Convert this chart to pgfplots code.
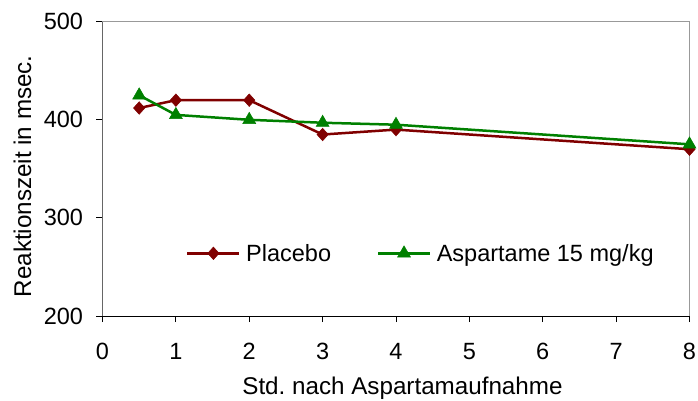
\documentclass[border=0pt]{standalone}
\usepackage{fontspec}
\setmainfont{Liberation Sans}
\usepackage{pgfplots}
\pgfplotsset{compat=1.18}
\definecolor{pred}{HTML}{800000}
\definecolor{pgreen}{HTML}{008000}
\begin{document}
\frenchspacing
\begin{tikzpicture}[font=\fontsize{23.5bp}{28bp}\selectfont]
\useasboundingbox (-102.5bp,-85bp) rectangle (595.5bp,316bp);
\begin{axis}[
  at={(0,0)}, anchor=south west,
  width=587bp, height=294.3bp, scale only axis,
  xmin=0, xmax=8, ymin=200, ymax=500,
  xtick={0,...,8}, ytick={200,300,400,500},
  axis line style={draw=none},
  tick align=outside, major tick length=6bp,
  xtick pos=bottom, ytick pos=left,
  tick style={black, line width=1bp},
  xticklabel style={yshift=-18bp},
  yticklabel style={xshift=-10bp},
  /pgf/number format/assume math mode=true,
  xlabel={Std. nach Aspartamaufnahme},
  ylabel={Reaktionszeit in msec.},
  every axis x label/.style={at={(axis description cs:0.511,-0.2684)}, anchor=base, font=\fontsize{24.2bp}{28bp}\selectfont},
  every axis y label/.style={at={(axis description cs:-0.1218,0.4747)}, anchor=base, rotate=90, font=\fontsize{24.2bp}{28bp}\selectfont},
  legend style={draw=none, fill=none, at={(axis description cs:0.1422,0.213)}, anchor=west,
    inner sep=0pt, nodes={inner sep=0pt},
    /tikz/every odd column/.append style={column sep=5.5bp},
    /tikz/every even column/.append style={column sep=45.7bp}},
  legend columns=2,
  legend image code/.code={\draw[mark repeat=2,mark phase=2,#1] plot coordinates {(0bp,0bp) (26bp,0bp) (52bp,0bp)};},
  clip=false,
]
\draw[color=black!40, line width=1bp] (rel axis cs:0,1) -- (rel axis cs:1,1) -- (rel axis cs:1,0);
\draw[color=black!60, line width=1.6bp] (rel axis cs:0,0) -- (rel axis cs:0,1);
\draw[black, line width=1bp] (rel axis cs:0,0) -- (rel axis cs:1,0);
\addplot[color=pred, line width=2.5bp, mark=diamond*, mark size=6.3bp, mark options={solid, xscale=1.2, line width=0.5bp}]
  coordinates {(0.5,412) (1,420) (2,420) (3,385) (4,390) (8,370)};
\addlegendentry{Placebo}
\addplot[color=pgreen, line width=2.5bp, mark=triangle*, mark size=7.5bp, mark options={solid, line width=0.5bp}]
  coordinates {(0.5,425) (1,405) (2,400) (3,397) (4,395) (8,375)};
\addlegendentry{Aspartame 15 mg/kg}
\end{axis}
\end{tikzpicture}
\end{document}
